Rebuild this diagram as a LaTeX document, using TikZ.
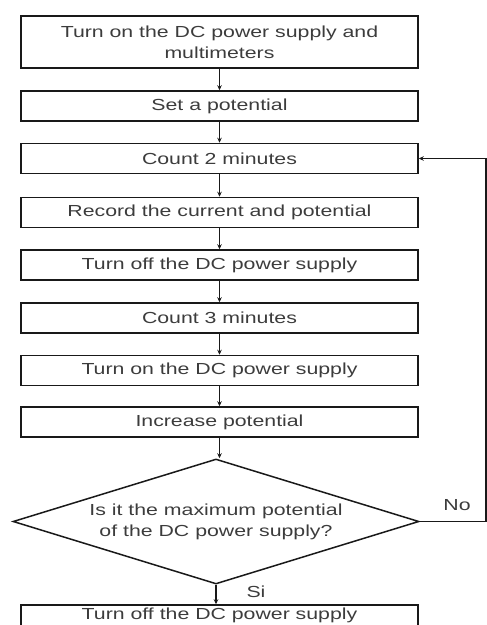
\documentclass[tikz,border=0pt]{standalone}
\usepackage{fontspec}
\setmainfont{Liberation Sans}[FakeStretch=1.33]
\usepackage{tikz}
\usetikzlibrary{arrows.meta, shapes.geometric, positioning}
\definecolor{FlowText}{RGB}{60,60,60}
\definecolor{FlowLine}{RGB}{25,25,25}

\begin{document}
\begin{tikzpicture}[x=1pt, y=-1pt,
	every node/.style={font=\fontsize{16}{21}\selectfont, text=FlowText},
	process/.style={draw=FlowLine, line width=1.5pt, rectangle, minimum width=397pt,
		minimum height=30pt, inner sep=0pt, align=center},
	decision/.style={draw=FlowLine, line width=1.5pt, diamond, shape aspect=3.25,
		minimum width=406pt, minimum height=125pt, inner sep=0pt, align=center},
	flow/.style={draw=FlowLine, line width=1.2pt, -{Stealth[length=5pt, width=4.5pt]}}]
	\useasboundingbox (0,0) rectangle (487,625);
	\clip (0,0) rectangle (487,625);
	% steps
	\node[process, minimum height=52pt] (turnon) at (219.5,42) {Turn on the DC power supply and\\multimeters};
	\node[process] (setpot) at (219.5,106) {Set a potential};
	\node[process] (counttwo) at (219.5,158.5) {Count 2 minutes};
	\node[process] (record) at (219.5,212.5) {Record the current and potential};
	\node[process] (turnoff) at (219.5,265) {Turn off the DC power supply};
	\node[process] (countthree) at (219.5,318) {Count 3 minutes};
	\node[process] (turnonagain) at (219.5,370.5) {Turn on the DC power supply};
	\node[process] (increase) at (219.5,422) {Increase potential};
	\node[decision] (maxpot) at (216,521.5) {Is it the maximum potential\\of the DC power supply?};
	\node[process, text height=12pt, text depth=14pt] (turnofflast) at (219.5,620) {Turn off the DC power supply};
	% labels
	\node (nolab) at (457,505) {No};
	\node (silab) at (256,592) {Si};
	\coordinate (loopcorner) at (486,521.5);
	% connectors
	\draw[flow] (turnon) -- (setpot);
	\draw[flow] (setpot) -- (counttwo);
	\draw[flow] (counttwo) -- (record);
	\draw[flow] (record) -- (turnoff);
	\draw[flow] (turnoff) -- (countthree);
	\draw[flow] (countthree) -- (turnonagain);
	\draw[flow] (turnonagain) -- (increase);
	\draw[flow] (increase.south) -- (increase.south |- maxpot.north);
	\draw[flow] (maxpot.south) -- (maxpot.south |- turnofflast.north);
	\draw[flow] (maxpot.east) -- (loopcorner) |- (counttwo.east);
\end{tikzpicture}
\end{document}
